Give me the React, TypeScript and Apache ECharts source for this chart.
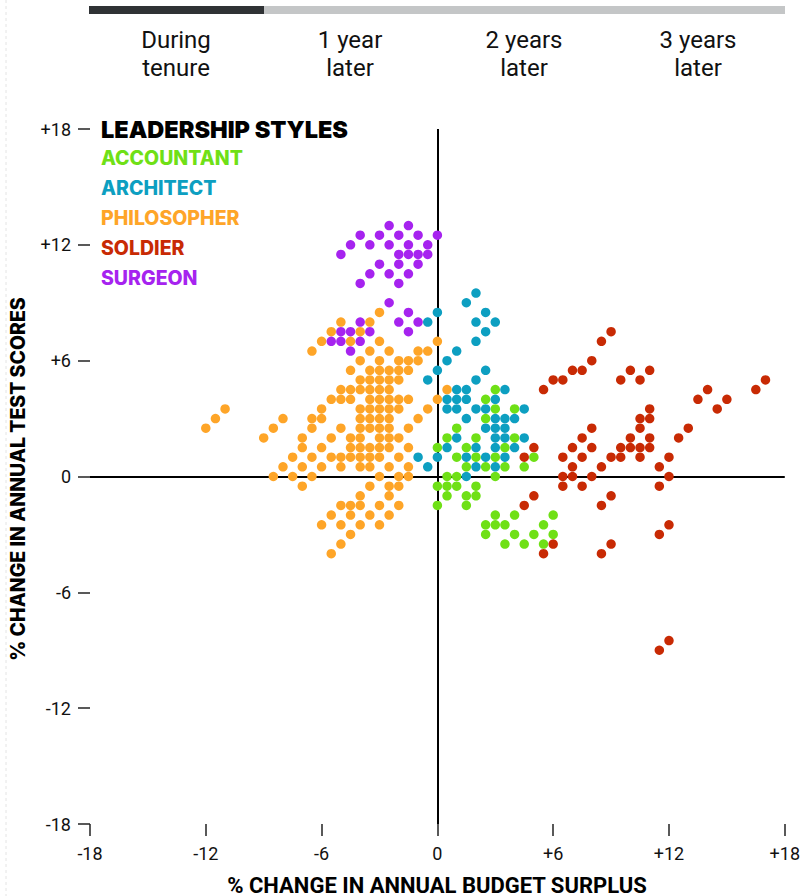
import React, { useEffect, useRef } from "react";
import * as echarts from "echarts";

type P = [number, number];

const SERIES_NAMES = ["ACCOUNTANT", "ARCHITECT", "PHILOSOPHER", "SOLDIER", "SURGEON"];
const SERIES_COLORS = ["#6fe016", "#0d9fc1", "#fea528", "#c82a04", "#a623ef"];

const ACCOUNTANT: P[] = [
  [3, 4.5], [2.5, 4], [3, 3.5], [4, 3.5], [2.5, 3], [1, 2.5], [0.5, 2], [2, 2], [4, 2],
  [0, 1.5], [1.5, 1.5], [3.5, 1.5], [1, 1], [2, 1], [3, 1], [5, 1],
  [1.5, 0.5], [2.5, 0.5], [3.5, 0.5], [4.5, 0.5], [0.5, 0], [1, 0], [3, 0],
  [0, -0.5], [0.5, -0.5], [1, -0.5], [2, -0.5], [0.5, -1], [1.5, -1], [2, -1],
  [0, -1.5], [1.5, -1.5], [3, -2], [4, -2], [6, -2],
  [2.5, -2.5], [3, -2.5], [3.5, -2.5], [5.5, -2.5],
  [2.5, -3], [4, -3], [5, -3], [6, -3], [3.5, -3.5], [4.5, -3.5], [5.5, -3.5],
];

const ARCHITECT: P[] = [
  [2, 9.5], [1.5, 9], [0, 8.5], [2.5, 8.5], [-0.5, 8], [2, 8], [3, 8], [2.5, 7.5], [2, 7],
  [1, 6.5], [0.5, 6], [0, 5.5], [2.5, 5.5], [-0.5, 5], [2, 5],
  [1, 4.5], [1.5, 4.5], [3.5, 4.5], [0.5, 4], [1, 4], [1.5, 4], [3, 4],
  [0.5, 3.5], [1, 3.5], [2, 3.5], [2.5, 3.5], [4.5, 3.5],
  [1.5, 3], [3, 3], [3.5, 3], [4, 3], [2.5, 2.5], [3, 2.5], [3.5, 2.5],
  [1, 2], [3, 2], [3.5, 2], [4.5, 2], [0.5, 1.5], [2, 1.5], [3, 1.5], [4, 1.5],
  [-1, 1], [0, 1], [1.5, 1], [2.5, 1], [3.5, 1], [-0.5, 0.5], [2, 0.5], [3, 0.5], [1.5, 0],
];

const PHILOSOPHER: P[] = [
  [-3, 8.5], [-5, 8], [-3.5, 8], [-5.5, 7.5], [-4, 7.5], [-6, 7], [-4.5, 7], [-3, 7], [0, 7],
  [-6.5, 6.5], [-3.5, 6.5], [-2.5, 6.5], [-1, 6.5], [-0.5, 6.5],
  [-4, 6], [-3, 6], [-2, 6], [-1.5, 6], [-1, 6],
  [-4.5, 5.5], [-3.5, 5.5], [-3, 5.5], [-2.5, 5.5], [-2, 5.5], [-1.5, 5.5],
  [-4, 5], [-3.5, 5], [-3, 5], [-2.5, 5], [-2, 5],
  [-5, 4.5], [-4.5, 4.5], [-4, 4.5], [-3.5, 4.5], [-3, 4.5], [-2.5, 4.5], [0.5, 4.5],
  [-5.5, 4], [-5, 4], [-4.5, 4], [-3.5, 4], [-3, 4], [-2.5, 4], [-2, 4], [-1.5, 4], [0, 4],
  [-11, 3.5], [-6, 3.5], [-4, 3.5], [-3.5, 3.5], [-3, 3.5], [-2.5, 3.5], [-2, 3.5], [-0.5, 3.5],
  [-11.5, 3], [-8, 3], [-6.5, 3], [-6, 3], [-4, 3], [-3.5, 3], [-3, 3], [-2.5, 3], [-1, 3],
  [-12, 2.5], [-8.5, 2.5], [-6.5, 2.5], [-5, 2.5], [-4, 2.5], [-3.5, 2.5], [-3, 2.5], [-2.5, 2.5], [-1.5, 2.5],
  [-9, 2], [-7, 2], [-5.5, 2], [-4.5, 2], [-4, 2], [-3, 2], [-2.5, 2], [-2, 2],
  [-7, 1.5], [-6, 1.5], [-4.5, 1.5], [-4, 1.5], [-3.5, 1.5], [-3, 1.5], [-2.5, 1.5], [-1.5, 1.5],
  [-7.5, 1], [-6.5, 1], [-5.5, 1], [-5, 1], [-4.5, 1], [-4, 1], [-3.5, 1], [-3, 1], [-2, 1],
  [-8, 0.5], [-7, 0.5], [-6, 0.5], [-5, 0.5], [-4, 0.5], [-3.5, 0.5], [-2.5, 0.5], [-1.5, 0.5],
  [-8.5, 0], [-7.5, 0], [-6.5, 0], [-3, 0], [-2, 0], [-1.5, 0],
  [-7, -0.5], [-3.5, -0.5], [-2.5, -0.5], [-2, -0.5], [-4, -1], [-2.5, -1],
  [-5, -1.5], [-4.5, -1.5], [-4, -1.5], [-3, -1.5], [-2, -1.5],
  [-5.5, -2], [-4.5, -2], [-3.5, -2], [-2.5, -2],
  [-6, -2.5], [-5, -2.5], [-4, -2.5], [-3, -2.5], [-4.5, -3], [-5, -3.5], [-5.5, -4],
];

const SOLDIER: P[] = [
  [9, 7.5], [8.5, 7], [8, 6], [7, 5.5], [7.5, 5.5], [10, 5.5], [11, 5.5],
  [6, 5], [6.5, 5], [9.5, 5], [10.5, 5], [17, 5], [5.5, 4.5], [14, 4.5], [16.5, 4.5],
  [13.5, 4], [15, 4], [11, 3.5], [14.5, 3.5], [10.5, 3], [11, 3],
  [8, 2.5], [10.5, 2.5], [13, 2.5], [7.5, 2], [10, 2], [11, 2], [12.5, 2],
  [5, 1.5], [7, 1.5], [8, 1.5], [9.5, 1.5], [10, 1.5], [10.5, 1.5], [11, 1.5],
  [4.5, 1], [6.5, 1], [7.5, 1], [9, 1], [9.5, 1], [10.5, 1], [12, 1],
  [7, 0.5], [8.5, 0.5], [11.5, 0.5], [6.5, 0], [7, 0], [8, 0], [12, 0],
  [6.5, -0.5], [7.5, -0.5], [11.5, -0.5], [5, -1], [9, -1], [4.5, -1.5], [8.5, -1.5],
  [12, -2.5], [11.5, -3], [6, -3.5], [9, -3.5], [5.5, -4], [8.5, -4],
  [12, -8.5], [11.5, -9],
];

const SURGEON: P[] = [
  [-2.5, 13], [-1.5, 13], [-4, 12.5], [-3, 12.5], [-2, 12.5], [-1, 12.5], [0, 12.5],
  [-4.5, 12], [-3.5, 12], [-2.5, 12], [-1.5, 12], [-0.5, 12],
  [-5, 11.5], [-2, 11.5], [-1.5, 11.5], [-1, 11.5], [-0.5, 11.5],
  [-3, 11], [-2, 11], [-1, 11], [-3.5, 10.5], [-2.5, 10.5], [-1.5, 10.5], [-4, 10], [-2, 10],
  [-2.5, 9], [-1.5, 8.5], [-4, 8], [-2, 8], [-1, 8],
  [-5, 7.5], [-4.5, 7.5], [-3.5, 7.5], [-1.5, 7.5], [-5.5, 7], [-5, 7], [-4, 7], [-4.5, 6.5],
];

const SERIES_DATA: P[][] = [ACCOUNTANT, ARCHITECT, PHILOSOPHER, SOLDIER, SURGEON];

const TABS = ["During\ntenure", "1 year\nlater", "2 years\nlater", "3 years\nlater"];
const LEGEND_TITLE = "LEADERSHIP STYLES";
const X_TITLE = "% CHANGE IN ANNUAL BUDGET SURPLUS";
const Y_TITLE = "% CHANGE IN ANNUAL TEST SCORES";
const AXIS_MIN = -18;
const AXIS_MAX = 18;
const AXIS_STEP = 6;

const fmt = (v: number) => (v > 0 ? "+" + v : String(v));

export default function App() {
  const ref = useRef<HTMLDivElement>(null);
  useEffect(() => {
    if (!ref.current) return;
    const chart = echarts.init(ref.current, undefined, { renderer: "svg" });

    const axisCommon = {
      min: AXIS_MIN,
      max: AXIS_MAX,
      interval: AXIS_STEP,
      splitLine: { show: false },
      axisLine: { show: true, onZero: false, lineStyle: { color: "rgba(0,0,0,0)", width: 0 } },
      axisTick: { show: true, length: 12, lineStyle: { color: "#222", width: 1.5 } },
    };

    const tabW = 174;
    const graphic: any[] = [
      { type: "rect", shape: { x: 89, y: 6, width: 175, height: 8 }, style: { fill: "#2f3235" } },
      { type: "rect", shape: { x: 264, y: 6, width: 521, height: 8 }, style: { fill: "#c4c6c7" } },
      {
        type: "line",
        shape: { x1: 6, y1: 0, x2: 6, y2: 896 },
        style: { stroke: "#e4e4e4", lineWidth: 1, lineDash: [3, 3] },
      },
      ...TABS.map((t, i) => ({
        type: "text",
        x: 89 + tabW * i + tabW / 2,
        y: 54,
        style: {
          text: t,
          fill: "#111",
          font: "400 24px Roboto, sans-serif",
          align: "center",
          verticalAlign: "middle",
          lineHeight: 28,
        },
      })),
      {
        type: "text",
        x: 101,
        y: 129,
        style: {
          text: LEGEND_TITLE,
          fill: "#000",
          font: "900 23.5px Inter, Roboto, sans-serif",
          align: "left",
          verticalAlign: "middle",
        },
      },
      ...SERIES_NAMES.map((n, i) => ({
        type: "text",
        x: 101,
        y: 158 + 30 * i,
        style: {
          text: n,
          fill: SERIES_COLORS[i],
          font: "800 19.5px Inter, Roboto, sans-serif",
          align: "left",
          verticalAlign: "middle",
        },
      })),
      {
        type: "text",
        x: 437,
        y: 885,
        style: {
          text: X_TITLE,
          fill: "#000",
          font: "700 22px Roboto, sans-serif",
          align: "center",
          verticalAlign: "middle",
        },
      },
      {
        type: "text",
        x: 18,
        y: 479,
        rotation: Math.PI / 2,
        style: {
          text: Y_TITLE,
          fill: "#000",
          font: "800 19.5px Inter, Roboto, sans-serif",
          align: "center",
          verticalAlign: "middle",
        },
      },
    ];

    chart.setOption({
      animation: false,
      grid: { left: 90, right: 18, top: 129, bottom: 72, containLabel: false },
      xAxis: {
        type: "value",
        ...axisCommon,
        axisLabel: {
          formatter: fmt,
          margin: 20,
          color: "#111",
          fontFamily: "Roboto, sans-serif",
          fontSize: 18,
        },
      },
      yAxis: {
        type: "value",
        ...axisCommon,
        axisLabel: {
          formatter: fmt,
          margin: 19,
          color: "#111",
          fontFamily: "Roboto, sans-serif",
          fontSize: 18,
        },
      },
      graphic,
      series: SERIES_NAMES.map((name, i) => ({
        name,
        type: "scatter",
        data: SERIES_DATA[i],
        symbolSize: 9.5,
        itemStyle: { color: SERIES_COLORS[i], opacity: 1 },
        z: 3,
        ...(i === 0
          ? {
              markLine: {
                silent: true,
                symbol: "none",
                label: { show: false },
                lineStyle: { color: "#000", width: 2, type: "solid" },
                data: [{ xAxis: 0 }, { yAxis: 0 }],
                z: 1,
              },
            }
          : {}),
      })),
    });
    return () => chart.dispose();
  }, []);
  return (
    <div
      ref={ref}
      style={{ position: "absolute", left: 0, top: 0, width: 803, height: 896, background: "#fff" }}
    />
  );
}
